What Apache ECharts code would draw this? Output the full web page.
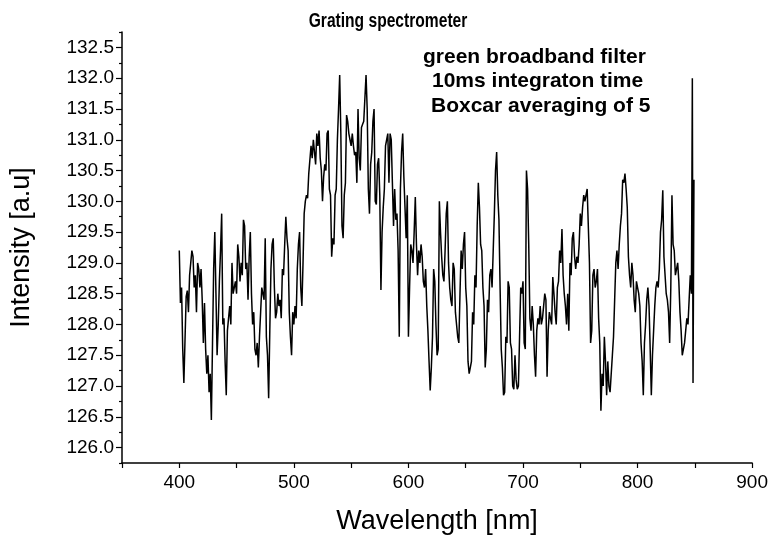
<!DOCTYPE html>
<html>
<head>
<meta charset="utf-8">
<script src="https://cdn.jsdelivr.net/npm/echarts@6/dist/echarts.min.js"></script>
<style>
html, body { margin: 0; padding: 0; background: #fff; }
#myChart { width: 771px; height: 540px; }
</style>
</head>
<body>
<div id="myChart"></div>
<script>
// wavelength grid (nm): 400..847 every 1 nm, then the last samples of the spike at the right end
const wlStart = 400
const wlStep = 1
const tailWavelength = [847.8, 848.4, 849.2]

// intensity (a.u), one value per wavelength, rows of 10 nm
const intensity = [
  129.2, 128.35, 128.6, 127.6, 127.05, 127.75, 128.45, 128.55, 128.2, 128.8,   // 400
  129.0, 129.2, 129.1, 128.6, 128.8, 128.2, 129.0, 128.9, 128.6, 128.9,       // 410
  128.4, 127.7, 128.35, 127.6, 127.2, 127.5, 126.9, 127.2, 126.45, 127.7,      // 420
  128.9, 129.5, 128.5, 127.5, 128.0, 128.7, 129.2, 129.8, 128.0, 128.1,       // 430
  127.4, 126.85, 127.9, 128.1, 128.3, 128.0, 129.0, 128.5, 128.6, 128.7,      // 440
  128.5, 129.3, 129.1, 128.7, 129.0, 128.8, 129.7, 129.6, 128.9, 129.0,       // 450
  128.4, 129.1, 129.5, 128.5, 128.0, 128.2, 127.6, 127.5, 127.7, 127.3,       // 460
  127.8, 128.2, 128.6, 128.5, 128.4, 129.4, 127.8, 127.5, 126.8, 127.9,       // 470
  128.9, 129.3, 129.4, 128.6, 128.1, 128.2, 128.5, 128.3, 128.4, 128.1,       // 480
  128.9, 128.8, 129.3, 129.75, 129.4, 129.2, 128.2, 127.8, 127.5, 128.2,      // 490
  128.0, 128.3, 128.1, 128.9, 129.3, 129.5, 128.6, 128.3, 129.0, 129.8,       // 500
  130.0, 130.1, 130.05, 130.45, 130.45, 130.9, 130.7, 131.0, 130.8, 130.6,    // 510
  131.1, 130.9, 131.15, 130.7, 130.5, 130.0, 130.4, 130.6, 130.5, 131.1,      // 520
  131.15, 130.2, 130.1, 129.1, 129.4, 129.3, 130.1, 130.2, 131.0, 131.5,      // 530
  132.05, 131.1, 129.6, 129.4, 130.1, 130.3, 131.4, 131.3, 131.1, 131.0,      // 540
  130.9, 131.1, 130.9, 130.75, 130.8, 130.3, 131.5, 130.7, 130.5, 131.2,      // 550
  131.25, 131.3, 131.3, 132.05, 131.5, 130.2, 129.8, 130.6, 130.8, 131.3,     // 560
  131.5, 130.0, 129.95, 130.6, 130.7, 130.1, 128.56, 129.5, 129.9, 130.2,     // 570
  130.9, 131.0, 131.1, 130.3, 131.1, 131.0, 130.3, 129.6, 130.2, 129.7,       // 580
  129.8, 129.2, 127.8, 130.2, 130.8, 131.1, 130.4, 129.9, 129.4, 130.1,       // 590
  127.8, 128.6, 129.3, 129.2, 129.0, 129.5, 130.07, 129.3, 128.8, 129.2,      // 600
  129.0, 129.3, 129.1, 128.7, 128.6, 128.9, 128.3, 127.9, 127.4, 126.93,      // 610
  127.3, 127.8, 128.9, 128.7, 128.0, 127.5, 127.6, 130.0, 129.5, 129.1,       // 620
  128.8, 128.7, 129.2, 129.8, 130.0, 129.0, 128.6, 128.4, 128.3, 129.0,       // 630
  128.9, 128.2, 128.0, 127.8, 127.7, 128.5, 129.2, 128.9, 129.3, 129.5,       // 640
  128.6, 128.3, 127.4, 127.2, 127.3, 127.4, 128.2, 128.0, 128.8, 128.6,       // 650
  129.6, 130.3, 129.9, 129.3, 129.2, 128.6, 128.3, 127.3, 127.6, 128.4,       // 660
  128.2, 128.8, 128.9, 128.6, 129.2, 129.8, 130.5, 130.8, 130.1, 129.7,       // 670
  128.6, 127.6, 127.3, 126.85, 126.9, 127.8, 127.7, 128.7, 128.6, 127.7,      // 680
  127.6, 127.0, 126.95, 127.5, 127.1, 126.95, 127.0, 127.8, 128.6, 128.5,     // 690
  128.7, 127.7, 127.6, 130.5, 130.2, 129.3, 128.1, 127.9, 128.3, 128.0,       // 700
  127.5, 127.15, 127.9, 128.1, 128.0, 128.3, 128.0, 128.1, 128.1, 128.5,      // 710
  128.4, 127.15, 127.9, 128.2, 128.1, 128.0, 128.77, 128.5, 128.2, 128.0,     // 720
  128.6, 128.7, 129.2, 129.0, 129.55, 128.8, 128.5, 128.3, 128.0, 128.5,      // 730
  127.9, 129.0, 128.8, 129.4, 129.5, 129.1, 128.9, 129.1, 129.0, 129.3,       // 740
  129.8, 129.6, 129.9, 130.1, 130.0, 130.1, 130.2, 129.6, 129.0, 127.7,       // 750
  127.9, 128.8, 128.9, 128.6, 128.7, 128.9, 128.1, 127.7, 126.6, 127.2,       // 760
  127.0, 127.8, 127.4, 126.85, 127.4, 127.0, 126.9, 126.9, 127.5, 127.8,      // 770
  128.4, 129.0, 129.2, 128.9, 129.3, 129.6, 129.8, 130.35, 130.3, 130.45,     // 780
  130.2, 129.9, 129.1, 128.8, 128.6, 129.0, 128.8, 128.4, 128.2, 128.7,       // 790
  128.6, 128.5, 128.3, 127.7, 127.4, 126.85, 127.7, 128.0, 128.4, 128.6,      // 800
  128.3, 127.6, 126.85, 127.5, 127.9, 128.3, 128.6, 128.7, 128.6, 128.9,      // 810
  129.5, 129.7, 130.18, 129.1, 128.8, 128.5, 128.4, 128.2, 127.7, 128.6,      // 820
  130.1, 129.3, 129.2, 128.8, 128.9, 129.0, 128.7, 128.2, 127.9, 127.5,       // 830
  127.5, 127.7, 127.7, 128.1, 128.0, 128.4, 128.8, 128.5,                     // 840
  132.0, 127.05, 130.35                                                       // spike
]

// tick labels
const xTicks = [400, 500, 600, 700, 800, 900]
const yTicks = [126.0, 126.5, 127.0, 127.5, 128.0, 128.5, 129.0, 129.5, 130.0, 130.5, 131.0, 131.5, 132.0, 132.5]
const yMinorTicks = [125.75, 126.25, 126.75, 127.25, 127.75, 128.25, 128.75, 129.25, 129.75, 130.25, 130.75, 131.25, 131.75, 132.25, 132.75]

const chartTitle = 'Grating spectrometer'
const notes = ['green broadband filter', '10ms integraton time', 'Boxcar averaging of 5']

const gridCount = intensity.length - tailWavelength.length
const wavelength = []
for (let i = 0; i < gridCount; i++) wavelength.push(wlStart + i * wlStep)
tailWavelength.forEach(w => wavelength.push(w))

const seriesData = wavelength.map((w, i) => [w, intensity[i]])

const font = "'Liberation Sans', Arial, sans-serif"

let myChart = echarts.init(document.getElementById('myChart'))
myChart.setOption({
  backgroundColor: '#fff',
  animation: false,
  graphic: [
    // title in a condensed bold face (squeezed horizontally)
    { type: 'text', x: 388, y: 21, scaleX: 0.78, style: { text: chartTitle, fontFamily: font, fontSize: 20, fontWeight: 'bold', fill: '#000', align: 'center', verticalAlign: 'middle' } },
    { type: 'text', left: 423, top: 47, style: { text: notes[0], fontFamily: font, fontSize: 21, fontWeight: 'bold', fill: '#000' } },
    { type: 'text', left: 432, top: 71, style: { text: notes[1], fontFamily: font, fontSize: 21, fontWeight: 'bold', fill: '#000' } },
    { type: 'text', left: 431, top: 96, style: { text: notes[2], fontFamily: font, fontSize: 21, fontWeight: 'bold', fill: '#000' } }
  ],
  grid: { left: 121, right: 14, top: 32, bottom: 77 },
  xAxis: {
    type: 'value',
    min: 350,
    max: 900,
    interval: 50,
    name: 'Wavelength [nm]',
    nameLocation: 'middle',
    nameGap: 45,
    nameTextStyle: { fontFamily: font, fontSize: 27, color: '#000' },
    axisLine: { show: true, lineStyle: { color: '#000', width: 1.5 } },
    axisTick: { show: true, inside: false, length: 5, lineStyle: { color: '#000', width: 1.2 } },
    axisLabel: {
      show: true,
      margin: 10,
      fontFamily: font,
      fontSize: 19,
      color: '#000',
      formatter: v => (xTicks.indexOf(v) >= 0 ? String(v) : '')
    },
    splitLine: { show: false }
  },
  yAxis: [{
    type: 'value',
    min: 125.75,
    max: 132.75,
    name: 'Intensity [a.u]',
    nameLocation: 'middle',
    nameGap: 87,
    nameTextStyle: { fontFamily: font, fontSize: 27, color: '#000' },
    axisLine: { show: true, lineStyle: { color: '#000', width: 1.5 } },
    axisTick: { show: true, length: 6, customValues: yTicks, lineStyle: { color: '#000', width: 1.2 } },
    axisLabel: {
      show: true,
      customValues: yTicks,
      margin: 8,
      fontFamily: font,
      fontSize: 19,
      color: '#000',
      formatter: v => v.toFixed(1)
    },
    splitLine: { show: false }
  }, {
    type: 'value',
    position: 'left',
    min: 125.75,
    max: 132.75,
    axisLine: { show: false },
    axisTick: { show: true, length: 3, customValues: yMinorTicks, lineStyle: { color: '#000', width: 1.2 } },
    axisLabel: { show: false },
    splitLine: { show: false }
  }],
  series: [{
    type: 'line',
    data: seriesData,
    showSymbol: false,
    symbol: 'none',
    lineStyle: { color: '#000', width: 1.5 },
    silent: true
  }]
})
</script>
</body>
</html>
